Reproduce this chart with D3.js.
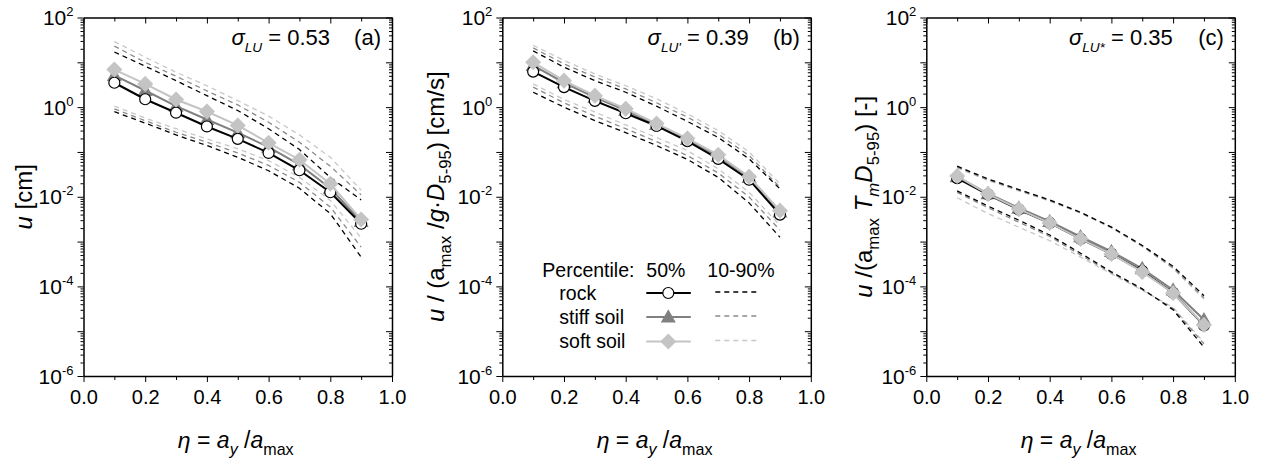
<!DOCTYPE html>
<html>
<head>
<meta charset="utf-8">
<script src="https://cdn.jsdelivr.net/npm/d3@7"></script>
<style>
  html, body { margin: 0; padding: 0; background: #fff; }
  svg { display: block; font-family: "Liberation Sans", Arial, Helvetica, sans-serif; }
</style>
</head>
<body>
<svg id="chart" width="1264" height="462"></svg>
<script>
// ---- data -----------------------------------------------------------
const eta = [0.1, 0.2, 0.3, 0.4, 0.5, 0.6, 0.7, 0.8, 0.9];
const xTickValues = [0.0, 0.2, 0.4, 0.6, 0.8, 1.0];
const xMinorTickValues = [0.1, 0.3, 0.5, 0.7, 0.9];
const yDecadeExponents = [-6, -5, -4, -3, -2, -1, 0, 1, 2];
const yLabelExponents = [-6, -4, -2, 0, 2];
const siteClasses = ["rock", "stiff soil", "soft soil"];
const sigmaValues = ["0.53", "0.39", "0.35"];
const sigmaSubscripts = ["LU", "LU'", "LU*"];
const panelTags = ["(a)", "(b)", "(c)"];
const legendHeader = ["Percentile:", "50%", "10-90%"];

// (a) u [cm]
const a_rock50  = [3.5, 1.5, 0.75, 0.37, 0.196, 0.095, 0.039, 0.0126, 0.0025];
const a_stiff50 = [5.1, 2.35, 1.05, 0.53, 0.27, 0.128, 0.052, 0.0155, 0.0028];
const a_soft50  = [6.9, 3.3, 1.48, 0.80, 0.39, 0.16, 0.067, 0.0195, 0.0031];
const a_rock90  = [17, 8.2, 3.9, 1.8, 0.84, 0.33, 0.113, 0.027, 0.0085];
const a_stiff90 = [23, 10, 4.9, 2.3, 1.12, 0.46, 0.165, 0.048, 0.011];
const a_soft90  = [29, 13, 6.0, 3.0, 1.4, 0.63, 0.24, 0.076, 0.014];
const a_rock10  = [0.79, 0.44, 0.24, 0.139, 0.076, 0.038, 0.0155, 0.0042, 0.00045];
const a_stiff10 = [0.91, 0.50, 0.275, 0.165, 0.095, 0.050, 0.021, 0.0059, 0.00075];
const a_soft10  = [1.05, 0.57, 0.33, 0.195, 0.117, 0.064, 0.027, 0.0083, 0.0012];

// (b) u / (amax/g . D5-95) [cm/s]
const b_rock50  = [6.2, 2.8, 1.38, 0.73, 0.38, 0.174, 0.070, 0.024, 0.0040];
const b_stiff50 = [8.5, 3.5, 1.65, 0.85, 0.41, 0.19, 0.080, 0.027, 0.0046];
const b_soft50  = [10, 3.9, 1.8, 0.92, 0.43, 0.20, 0.086, 0.028, 0.0049];
const b_rock90  = [18, 7.8, 3.9, 2.15, 1.05, 0.48, 0.21, 0.070, 0.015];
const b_stiff90 = [21, 9.2, 4.7, 2.55, 1.25, 0.60, 0.25, 0.083, 0.0163];
const b_soft90  = [24, 11, 5.5, 3.0, 1.53, 0.71, 0.30, 0.10, 0.0195];
const b_rock10  = [2.15, 1.0, 0.50, 0.27, 0.139, 0.068, 0.027, 0.0073, 0.00125];
const b_stiff10 = [2.8, 1.25, 0.63, 0.33, 0.17, 0.083, 0.034, 0.0099, 0.0018];
const b_soft10  = [3.3, 1.48, 0.78, 0.40, 0.21, 0.107, 0.042, 0.0126, 0.0023];

// (c) u / (amax Tm D5-95) [-]
const c_rock50  = [0.026, 0.0112, 0.0052, 0.0026, 0.00115, 0.00053, 0.00022, 0.000072, 0.0000135];
const c_stiff50 = [0.028, 0.0118, 0.0056, 0.0028, 0.00128, 0.00060, 0.00025, 0.000083, 0.000018];
const c_soft50  = [0.029, 0.0115, 0.0053, 0.0026, 0.00115, 0.00053, 0.00021, 0.000071, 0.0000138];
const c_rock90  = [0.048, 0.025, 0.0145, 0.0085, 0.0045, 0.0021, 0.00082, 0.00028, 0.000062];
const c_stiff90 = [0.046, 0.024, 0.014, 0.0082, 0.0044, 0.0021, 0.00080, 0.00026, 0.000056];
const c_soft90  = [0.044, 0.023, 0.0135, 0.0080, 0.0043, 0.0020, 0.00078, 0.00025, 0.000052];
const c_rock10  = [0.0135, 0.0062, 0.0030, 0.0014, 0.00055, 0.00021, 0.000088, 0.000030, 0.0000044];
const c_stiff10 = [0.0125, 0.0057, 0.0027, 0.0013, 0.00050, 0.00020, 0.000085, 0.000032, 0.0000052];
const c_soft10  = [0.0095, 0.0042, 0.0021, 0.00105, 0.00045, 0.00019, 0.000082, 0.000034, 0.0000056];

// ---- styles ---------------------------------------------------------
const FONT = 20;
const TITLE_FONT = 24;
const style = {
  "rock":       { line: "#000000", dash: "#000000", fill: "#ffffff", stroke: "#000000", marker: "circle" },
  "stiff soil": { line: "#808080", dash: "#8a8a8a", fill: "#808080", stroke: "#808080", marker: "triangle" },
  "soft soil":  { line: "#c4c4c4", dash: "#c8c8c8", fill: "#c4c4c4", stroke: "#c4c4c4", marker: "diamond" }
};

const panels = [
  { left: 83.5,  med: [a_rock50, a_stiff50, a_soft50], p90: [a_rock90, a_stiff90, a_soft90], p10: [a_rock10, a_stiff10, a_soft10] },
  { left: 502.3, med: [b_rock50, b_stiff50, b_soft50], p90: [b_rock90, b_stiff90, b_soft90], p10: [b_rock10, b_stiff10, b_soft10] },
  { left: 926.3, med: [c_rock50, c_stiff50, c_soft50], p90: [c_rock90, c_stiff90, c_soft90], p10: [c_rock10, c_stiff10, c_soft10] }
];
const plotW = 308.5, plotTop = 17.5, plotBottom = 376;

const svg = d3.select("#chart");

function markerPath(kind) {
  if (kind === "circle") return d3.symbol(d3.symbolCircle, 95)();
  if (kind === "triangle") return "M0,-6.5L6.5,5L-6.5,5Z";
  return "M0,-7.2L7.2,0L0,7.2L-7.2,0Z";
}

// rich text helper: parts = [{t, i (italic), sub}]
function rich(textSel, parts, size, subScale) {
  const k = subScale || 0.7;
  let shift = 0;
  parts.forEach(p => {
    const target = p.sub ? size * 0.3 : 0;
    const ts = textSel.append("tspan").text(p.t);
    if (target !== shift) { ts.attr("dy", target - shift); shift = target; }
    if (p.i) ts.attr("font-style", "italic");
    if (p.sub) ts.attr("font-size", size * k);
  });
}

const yTitles = [
  [{ t: "u", i: 1 }, { t: " [cm]" }],
  [{ t: "u", i: 1 }, { t: " / (a" }, { t: "max", sub: 1 }, { t: " /" }, { t: "g", i: 1 }, { t: "·" }, { t: "D", i: 1 }, { t: "5-95", sub: 1 }, { t: ") [cm/s]" }],
  [{ t: "u", i: 1 }, { t: " /(a" }, { t: "max", sub: 1 }, { t: " " }, { t: "T", i: 1 }, { t: "m", sub: 1, i: 1 }, { t: "D", i: 1 }, { t: "5-95", sub: 1 }, { t: ") [-]" }]
];
const yTitleBaseline = [32, 444, 872];

panels.forEach((P, pi) => {
  const x = d3.scaleLinear().domain([0, 1]).range([P.left, P.left + plotW]);
  const y = d3.scaleLog().domain([1e-6, 1e2]).range([plotBottom, plotTop]);
  const g = svg.append("g");

  const majorY = yDecadeExponents.map(e => Math.pow(10, e));
  const minorY = [];
  yDecadeExponents.slice(0, -1).forEach(e => {
    for (let d = 2; d <= 9; d++) minorY.push(d * Math.pow(10, e));
  });

  const styleAxis = sel => {
    sel.select(".domain").attr("stroke", "#000").attr("stroke-width", 1.5);
    sel.selectAll(".tick line").attr("stroke", "#000").attr("stroke-width", 1);
  };

  // bottom axis (labels) + minor ticks
  const gb = g.append("g").attr("transform", `translate(0,${plotBottom})`)
    .call(d3.axisBottom(x).tickValues(xTickValues).tickFormat(d3.format(".1f")).tickSizeInner(6).tickSizeOuter(0))
    .call(styleAxis);
  gb.selectAll(".tick text").attr("dy", null).attr("y", 28)
    .attr("font-size", FONT).attr("font-family", null).attr("fill", "#000");
  g.append("g").attr("transform", `translate(0,${plotBottom})`)
    .call(d3.axisBottom(x).tickValues(xMinorTickValues).tickFormat("").tickSizeInner(4).tickSizeOuter(0))
    .call(styleAxis).select(".domain").remove();

  // top axis, ticks hanging into the frame
  g.append("g").attr("transform", `translate(0,${plotTop})`)
    .call(d3.axisBottom(x).tickValues(xTickValues).tickFormat("").tickSizeInner(6).tickSizeOuter(0))
    .call(styleAxis);
  g.append("g").attr("transform", `translate(0,${plotTop})`)
    .call(d3.axisBottom(x).tickValues(xMinorTickValues).tickFormat("").tickSizeInner(4).tickSizeOuter(0))
    .call(styleAxis).select(".domain").remove();

  // left axis
  const gl = g.append("g").attr("transform", `translate(${P.left},0)`)
    .call(d3.axisLeft(y).tickValues(majorY).tickFormat("").tickSizeInner(6).tickSizeOuter(0))
    .call(styleAxis);
  g.append("g").attr("transform", `translate(${P.left},0)`)
    .call(d3.axisLeft(y).tickValues(minorY).tickFormat("").tickSizeInner(3).tickSizeOuter(0))
    .call(styleAxis).select(".domain").remove();

  // right axis, ticks pointing into the frame
  g.append("g").attr("transform", `translate(${P.left + plotW},0)`)
    .call(d3.axisLeft(y).tickValues(majorY).tickFormat("").tickSizeInner(6).tickSizeOuter(0))
    .call(styleAxis);
  g.append("g").attr("transform", `translate(${P.left + plotW},0)`)
    .call(d3.axisLeft(y).tickValues(minorY).tickFormat("").tickSizeInner(3).tickSizeOuter(0))
    .call(styleAxis).select(".domain").remove();

  // y tick labels 10^n
  yLabelExponents.forEach(e => {
    const t = gl.append("text").attr("x", -10).attr("y", y(Math.pow(10, e)) + 7.5)
      .attr("text-anchor", "end").attr("font-size", FONT + 1).attr("fill", "#000");
    t.append("tspan").text("10");
    t.append("tspan").attr("dy", -9).attr("font-size", 13).text(String(e));
  });

  // axis titles
  const xt = g.append("text").attr("x", P.left + plotW / 2 - 2).attr("y", 448)
    .attr("text-anchor", "middle").attr("font-size", 23).attr("fill", "#000");
  rich(xt, [{ t: "η", i: 1 }, { t: " = " }, { t: "a", i: 1 }, { t: "y", i: 1, sub: 1 }, { t: " /" }, { t: "a", i: 1 }, { t: "max", sub: 1 }], 23);

  const yt = g.append("text")
    .attr("transform", `translate(${yTitleBaseline[pi]},${(plotTop + plotBottom) / 2}) rotate(-90)`)
    .attr("text-anchor", "middle").attr("font-size", TITLE_FONT).attr("fill", "#000");
  rich(yt, yTitles[pi], TITLE_FONT);

  // sigma annotation + panel tag
  const st = g.append("text").attr("x", P.left + plotW - 62).attr("y", 45)
    .attr("text-anchor", "end").attr("font-size", 22).attr("fill", "#000");
  rich(st, [{ t: "σ", i: 1 }, { t: sigmaSubscripts[pi], i: 1, sub: 1 }, { t: " = " + sigmaValues[pi] }], 22, 0.62);
  g.append("text").attr("x", P.left + plotW - 11).attr("y", 45)
    .attr("text-anchor", "end").attr("font-size", 22).attr("fill", "#000").text(panelTags[pi]);

  // data
  const line = d3.line().x((d, i) => x(eta[i])).y(d => y(d));
  const dashOrder = [2, 1, 0];
  dashOrder.forEach(k => {
    const s = style[siteClasses[k]];
    [P.p90[k], P.p10[k]].forEach(arr => {
      g.append("path").datum(arr).attr("d", line).attr("fill", "none")
        .attr("stroke", s.dash).attr("stroke-width", 1.3).attr("stroke-dasharray", "5,4");
    });
  });
  const medOrder = [1, 0, 2];
  medOrder.forEach(k => {
    const s = style[siteClasses[k]];
    g.append("path").datum(P.med[k]).attr("d", line).attr("fill", "none")
      .attr("stroke", s.line).attr("stroke-width", 2);
    g.selectAll(null).data(P.med[k]).enter().append("path")
      .attr("d", markerPath(s.marker))
      .attr("transform", (d, i) => `translate(${x(eta[i])},${y(d)})`)
      .attr("fill", s.fill).attr("stroke", s.stroke).attr("stroke-width", 1.2);
  });

  // legend in panel (b)
  if (pi === 1) {
    const L = P.left;
    const lg = g.append("g").attr("font-size", 19.5).attr("fill", "#000");
    lg.append("text").attr("x", L + 40).attr("y", 277).text(legendHeader[0]);
    lg.append("text").attr("x", L + 144).attr("y", 277).text(legendHeader[1]);
    lg.append("text").attr("x", L + 205).attr("y", 277).text(legendHeader[2]);
    const rowY = [293, 317, 341.5];
    siteClasses.forEach((name, k) => {
      const s = style[name];
      lg.append("text").attr("x", L + 57).attr("y", rowY[k] + 6.5).text(name);
      lg.append("line").attr("x1", L + 144).attr("x2", L + 188.5).attr("y1", rowY[k]).attr("y2", rowY[k])
        .attr("stroke", s.line).attr("stroke-width", 2);
      lg.append("path").attr("d", markerPath(s.marker))
        .attr("transform", `translate(${L + 166},${rowY[k]})`)
        .attr("fill", s.fill).attr("stroke", s.stroke).attr("stroke-width", 1.2);
      lg.append("line").attr("x1", L + 213).attr("x2", L + 258).attr("y1", rowY[k] - 1).attr("y2", rowY[k] - 1)
        .attr("stroke", s.dash).attr("stroke-width", 1.3).attr("stroke-dasharray", "5,4");
    });
  }
});
</script>
</body>
</html>
